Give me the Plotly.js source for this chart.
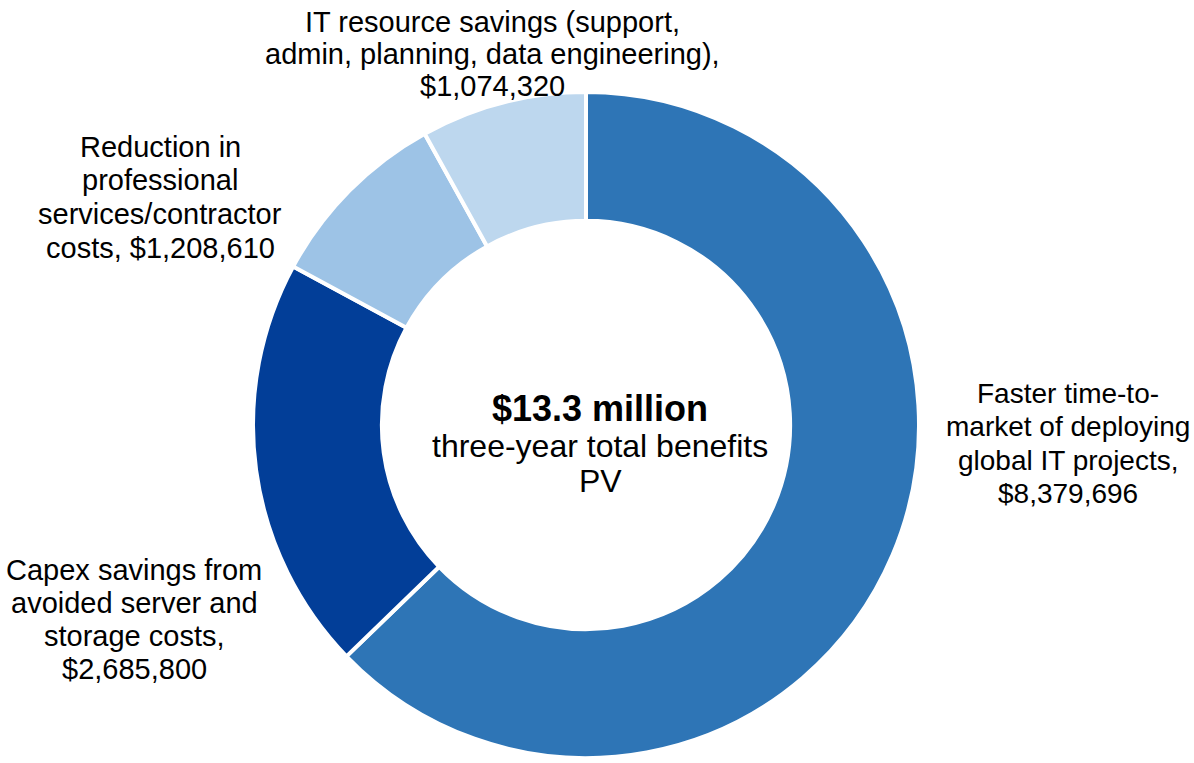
<!DOCTYPE html>
<html>
<head>
<meta charset="utf-8">
<script src="https://cdn.plot.ly/plotly-3.0.1.min.js"></script>
<style>html,body{margin:0;padding:0;background:#fff;}#chart{width:1194px;height:763px;}</style>
</head>
<body>
<div id="chart"></div>
<script>
const categories = [
  "Faster time-to-market of deploying global IT projects",
  "Capex savings from avoided server and storage costs",
  "Reduction in professional services/contractor costs",
  "IT resource savings (support, admin, planning, data engineering)"
];
const wrappedLabels = [
  "Faster time-to-<br>market of deploying<br>global IT projects,<br>",
  "Capex savings from<br>avoided server and<br>storage costs,<br>",
  "Reduction in<br>professional<br>services/contractor<br>costs, ",
  "IT resource savings (support,<br>admin, planning, data engineering),<br>"
];
const values = [8379696, 2685800, 1208610, 1074320];
const colors = ["#2E75B6", "#023E98", "#9DC3E6", "#BDD7EE"];
const centerTitle = "$13.3 million";
const centerSub = ["three-year total benefits", "PV"];

const fmt = v => "$" + v.toLocaleString("en-US");
const labelText = wrappedLabels.map((w, i) => w + fmt(values[i]));

const W = 1194, H = 763;
const cx = 586, cy = 425, R = 333;
const font = "Liberation Sans, Arial, sans-serif";

const trace = {
  type: "pie",
  labels: categories,
  values: values,
  sort: false,
  direction: "clockwise",
  rotation: 0,
  hole: 0.613,
  textinfo: "none",
  hoverinfo: "label+value",
  marker: { colors: colors, line: { color: "#ffffff", width: 4 } },
  domain: {
    x: [(cx - R) / W, (cx + R) / W],
    y: [(H - cy - R) / H, (H - cy + R) / H]
  },
  showlegend: false
};

// layout of each outside label: center x, first-line y, line spacing (px), font size
const labelPos = [
  { x: 1068, y: 393, dy: 33.5, size: 28 },
  { x: 134, y: 570, dy: 33, size: 29 },
  { x: 160, y: 147, dy: 33.5, size: 29 },
  { x: 492, y: 22, dy: 32, size: 29 }
];
const annotations = [];
labelText.forEach((t, i) => {
  t.split("<br>").forEach((line, j) => {
    annotations.push({
      text: line, xref: "paper", yref: "paper",
      x: labelPos[i].x / W, y: 1 - (labelPos[i].y + j * labelPos[i].dy) / H,
      xanchor: "center", yanchor: "middle", align: "center",
      showarrow: false, font: { family: font, size: labelPos[i].size, color: "#000" }
    });
  });
});
annotations.push({
  text: "<b>" + centerTitle + "</b>", xref: "paper", yref: "paper",
  x: 600 / W, y: 1 - 408 / H, xanchor: "center", yanchor: "middle",
  showarrow: false, font: { family: font, size: 36, color: "#000" }
});
centerSub.forEach((s, i) => annotations.push({
  text: s, xref: "paper", yref: "paper",
  x: 600 / W, y: 1 - (446 + i * 35) / H, xanchor: "center", yanchor: "middle",
  showarrow: false, font: { family: font, size: 32, color: "#000" }
}));

const layout = {
  width: W, height: H,
  margin: { l: 0, r: 0, t: 0, b: 0 },
  paper_bgcolor: "#fff", plot_bgcolor: "#fff",
  annotations: annotations,
  font: { family: font }
};
Plotly.newPlot("chart", [trace], layout, { displayModeBar: false, staticPlot: true });
</script>
</body>
</html>
